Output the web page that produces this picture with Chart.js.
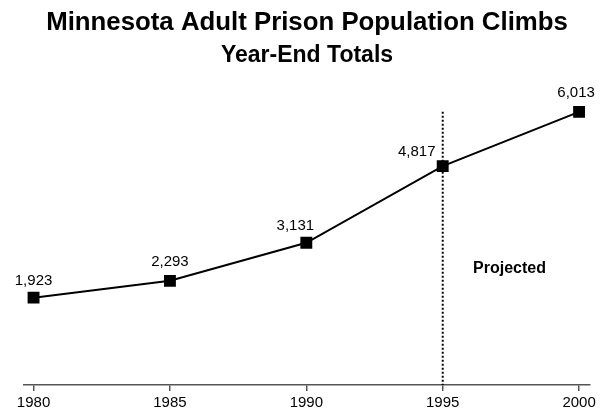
<!DOCTYPE html>
<html lang="en">
<head>
  <meta charset="UTF-8">
  <title>Minnesota Adult Prison Population</title>
  <script src="https://cdn.jsdelivr.net/npm/chart.js"></script>
  <style>
    html, body {
      margin: 0;
      padding: 0;
      background: #fff;
    }
    #wrap {
      width: 608px;
      height: 414px;
    }
  </style>
</head>
<body>
<div id="wrap">
  <canvas id="myChart"></canvas>
</div>

<script>
  // 연도별 수감 인원 (1995년 이후는 예측치)
  const years = [1980, 1985, 1990, 1995, 2000];
  const population = [1923, 2293, 3131, 4817, 6013];
  const tickYears = [1980, 1985, 1990, 1995, 2000];
  const projectedFrom = 1995;

  const font = "'Liberation Sans', Arial, Helvetica, sans-serif";

  // 점 위에 값 표시 + 예측 구분선
  const extras = {
    id: 'extras',
    afterDatasetsDraw(chart) {
      const ctx = chart.ctx;
      const xs = chart.scales.x;
      const ys = chart.scales.y;
      const meta = chart.getDatasetMeta(0);

      ctx.save();
      // 예측 구분 점선
      const px = xs.getPixelForValue(projectedFrom);
      ctx.strokeStyle = '#000';
      ctx.lineWidth = 2;
      ctx.setLineDash([2, 2]);
      ctx.beginPath();
      ctx.moveTo(px, ys.getPixelForValue(population[population.length - 1]));
      ctx.lineTo(px, ys.bottom);
      ctx.stroke();
      ctx.setLineDash([]);

      // 값 라벨 (겹치지 않게 조금씩 이동)
      const dx = [0, 0, -11, -26, -3];
      const dy = [13, 15, 13, 10, 15];
      ctx.fillStyle = '#000';
      ctx.font = '15px ' + font;
      ctx.textAlign = 'center';
      ctx.textBaseline = 'alphabetic';
      meta.data.forEach((pt, i) => {
        ctx.fillText(population[i].toLocaleString('en-US'), pt.x + dx[i], pt.y - dy[i]);
      });

      ctx.font = 'bold 16px ' + font;
      ctx.fillText('Projected', xs.getPixelForValue(1997.45), ys.getPixelForValue(2467));
      ctx.restore();
    }
  };

  const ctx = document.getElementById('myChart').getContext('2d');
  const myChart = new Chart(ctx, {
    type: 'line',
    data: {
      datasets: [{
        data: years.map((y, i) => ({ x: y, y: population[i] })),
        borderColor: '#000',
        backgroundColor: '#000',
        borderWidth: 2,
        pointStyle: 'rect',
        pointRadius: 7,
        pointHoverRadius: 7,
        tension: 0
      }]
    },
    options: {
      responsive: true,
      maintainAspectRatio: false,
      animation: false,
      layout: {
        padding: { left: 24, right: 18, top: 0, bottom: 0 }
      },
      scales: {
        x: {
          type: 'linear',
          min: 1979.65,
          max: 2000.4,
          afterBuildTicks: (axis) => {
            axis.ticks = tickYears.map(v => ({ value: v }));
          },
          grid: {
            drawOnChartArea: false,
            drawTicks: true,
            tickLength: 6,
            color: '#555',
            lineWidth: 1.5
          },
          border: { display: true, color: '#555', width: 1.5 },
          ticks: {
            color: '#000',
            font: { family: font, size: 15, lineHeight: 1 },
            padding: 4,
            maxRotation: 0,
            callback: (v) => String(v)
          }
        },
        y: {
          display: false,
          min: 0,
          max: 6600
        }
      },
      plugins: {
        legend: { display: false },
        tooltip: { enabled: false },
        title: {
          display: true,
          text: 'Minnesota Adult Prison Population Climbs',
          color: '#000',
          font: { family: font, size: 25.8, weight: 'bold' },
          padding: { top: 7, bottom: 2 }
        },
        subtitle: {
          display: true,
          text: 'Year-End Totals',
          color: '#000',
          font: { family: font, size: 23, weight: 'bold' },
          padding: { top: 1.6, bottom: 16 }
        }
      }
    },
    plugins: [extras]
  });
</script>
</body>
</html>
